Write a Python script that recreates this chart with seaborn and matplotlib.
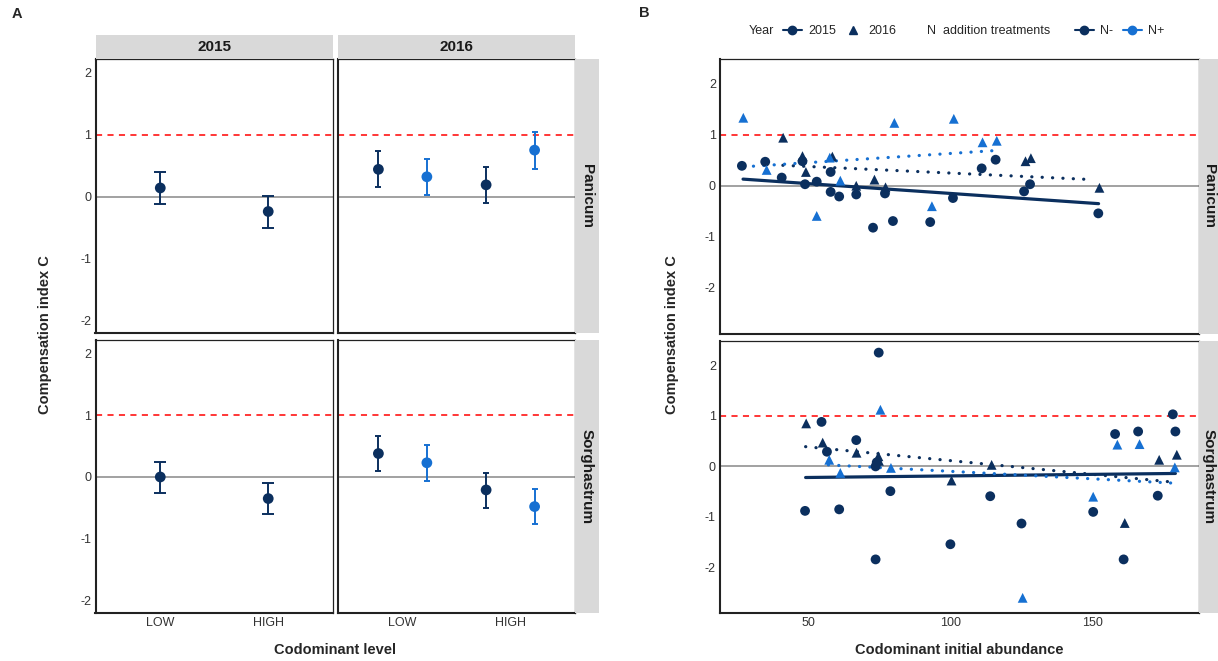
import numpy as np
import pandas as pd
import matplotlib
matplotlib.use("Agg")
import matplotlib.pyplot as plt
import seaborn as sns
from matplotlib.lines import Line2D

# ---- Panel A: mean compensation index with interval
a_species = ["Panicum"] * 6 + ["Sorghastrum"] * 6
a_year = ["2015", "2015", "2016", "2016", "2016", "2016"] * 2
a_level = ["LOW", "HIGH", "LOW", "LOW", "HIGH", "HIGH"] * 2
a_n = ["N-", "N-", "N-", "N+", "N-", "N+"] * 2
a_mean = [0.14, -0.24, 0.44, 0.32, 0.19, 0.75, 0.00, -0.35, 0.38, 0.23, -0.21, -0.48]
a_lo = [-0.12, -0.50, 0.15, 0.03, -0.10, 0.45, -0.26, -0.60, 0.09, -0.06, -0.50, -0.77]
a_hi = [0.39, 0.01, 0.74, 0.61, 0.47, 1.04, 0.24, -0.09, 0.66, 0.52, 0.07, -0.19]

# ---- Panel B: points (species / year / N treatment)
pan_2015_nm_x = [26.6, 34.8, 40.6, 47.9, 48.8, 52.9, 57.8, 57.8, 60.8, 66.8, 72.7, 76.9, 79.7, 92.8, 100.8, 110.9, 115.8, 125.8, 127.9, 151.9]
pan_2015_nm_y = [0.39, 0.47, 0.16, 0.48, 0.03, 0.08, 0.27, -0.12, -0.21, -0.17, -0.82, -0.15, -0.69, -0.71, -0.24, 0.34, 0.51, -0.11, 0.03, -0.54]
pan_2016_nm_x = [41.1, 47.9, 49.1, 58.4, 66.8, 73.2, 77.1, 126.3, 128.2, 152.3]
pan_2016_nm_y = [0.94, 0.58, 0.27, 0.57, 0.00, 0.12, -0.03, 0.48, 0.54, -0.04]
pan_2016_np_x = [27.1, 35.3, 52.9, 57.5, 61.2, 80.2, 93.4, 101.1, 111.2, 116.2]
pan_2016_np_y = [1.33, 0.31, -0.59, 0.55, 0.10, 1.23, -0.40, 1.31, 0.85, 0.88]

sor_2015_nm_x = [48.8, 54.6, 56.5, 60.8, 66.8, 73.6, 74.0, 73.6, 74.7, 78.8, 99.9, 113.9, 124.9, 150.1, 157.8, 160.8, 165.9, 172.8, 178.1, 179.0]
sor_2015_nm_y = [-0.88, 0.88, 0.29, -0.85, 0.52, 0.00, 0.08, -1.84, 2.25, -0.49, -1.54, -0.59, -1.13, -0.90, 0.64, -1.84, 0.69, -0.58, 1.03, 0.69]
sor_2016_nm_x = [49.2, 55.0, 66.9, 74.6, 74.8, 100.3, 114.4, 161.2, 173.3, 179.5]
sor_2016_nm_y = [0.85, 0.47, 0.27, 0.20, 0.11, -0.28, 0.03, -1.12, 0.13, 0.23]
sor_2016_np_x = [57.3, 61.2, 75.3, 79.0, 125.3, 150.1, 158.6, 166.4, 178.8]
sor_2016_np_y = [0.13, -0.13, 1.12, -0.03, -2.60, -0.60, 0.43, 0.44, -0.02]

# fitted lines (end points)
pan_fit_2015_nm_x, pan_fit_2015_nm_y = [27, 152], [0.13, -0.35]
pan_fit_2016_nm_x, pan_fit_2016_nm_y = [41, 150], [0.40, 0.12]
pan_fit_2016_np_x, pan_fit_2016_np_y = [27, 116], [0.37, 0.69]
sor_fit_2015_nm_x, sor_fit_2015_nm_y = [49, 179], [-0.22, -0.14]
sor_fit_2016_nm_x, sor_fit_2016_nm_y = [49, 178], [0.39, -0.31]
sor_fit_2016_np_x, sor_fit_2016_np_y = [57, 178], [0.03, -0.33]

DARK = "#0b2f5e"
BLUE = "#1670d2"
pal = {"N-": DARK, "N+": BLUE}

df_a = pd.DataFrame({"species": a_species, "year": a_year, "level": a_level,
                     "N": a_n, "mean": a_mean, "lo": a_lo, "hi": a_hi})


def make_pts(parts):
    frames = []
    for year, n, xs, ys in parts:
        frames.append(pd.DataFrame({"x": xs, "y": ys, "Year": year, "N": n}))
    return pd.concat(frames, ignore_index=True)


pts = {
    "Panicum": make_pts([("2015", "N-", pan_2015_nm_x, pan_2015_nm_y),
                         ("2016", "N-", pan_2016_nm_x, pan_2016_nm_y),
                         ("2016", "N+", pan_2016_np_x, pan_2016_np_y)]),
    "Sorghastrum": make_pts([("2015", "N-", sor_2015_nm_x, sor_2015_nm_y),
                             ("2016", "N-", sor_2016_nm_x, sor_2016_nm_y),
                             ("2016", "N+", sor_2016_np_x, sor_2016_np_y)]),
}
fits = {
    "Panicum": make_pts([("2015", "N-", pan_fit_2015_nm_x, pan_fit_2015_nm_y),
                         ("2016", "N-", pan_fit_2016_nm_x, pan_fit_2016_nm_y),
                         ("2016", "N+", pan_fit_2016_np_x, pan_fit_2016_np_y)]),
    "Sorghastrum": make_pts([("2015", "N-", sor_fit_2015_nm_x, sor_fit_2015_nm_y),
                             ("2016", "N-", sor_fit_2016_nm_x, sor_fit_2016_nm_y),
                             ("2016", "N+", sor_fit_2016_np_x, sor_fit_2016_np_y)]),
}

sns.set_style("white")
plt.rcParams["font.family"] = ["Liberation Sans", "DejaVu Sans"]
plt.rcParams["axes.unicode_minus"] = False

W, H = 1218, 661
fig = plt.figure(figsize=(W / 100, H / 100), dpi=100)


def px_axes(x0, y0, x1, y1):
    return fig.add_axes([x0 / W, 1 - y1 / H, (x1 - x0) / W, (y1 - y0) / H])


def strip(x0, y0, x1, y1, text, rot=0):
    s = px_axes(x0, y0, x1, y1)
    s.set_facecolor("#d9d9d9")
    s.set_xticks([])
    s.set_yticks([])
    for sp in s.spines.values():
        sp.set_visible(False)
    s.text(0.5, 0.5, text, rotation=rot, ha="center", va="center",
           fontsize=11, fontweight="bold", color="#1a1a1a", transform=s.transAxes)


def style(ax, show_x, show_y):
    for side, sp in ax.spines.items():
        sp.set_color("#222222")
        sp.set_linewidth(1.5 if side in ("left", "bottom") else 0.9)
    ax.tick_params(direction="in", length=3, width=0.6, color="#666666",
                   labelsize=9, labelcolor="#333333", pad=3,
                   labelbottom=show_x, labelleft=show_y)
    ax.axhline(0, color="#9a9a9a", lw=1.3, zorder=0)
    ax.axhline(1, color="red", lw=1.1, ls=(0, (4, 3.5)), zorder=0)
    ax.set_xlabel("")
    ax.set_ylabel("")


# ---------------- Panel A ----------------
cols_a = [(95.5, 333), (338, 575)]
rows_a = [(59, 333), (340, 612.7)]
years = ["2015", "2016"]
species = ["Panicum", "Sorghastrum"]
level_pos = {"LOW": 0, "HIGH": 1}

for r, sp_name in enumerate(species):
    for c, yr in enumerate(years):
        ax = px_axes(cols_a[c][0], rows_a[r][0], cols_a[c][1], rows_a[r][1])
        sub = df_a[(df_a.species == sp_name) & (df_a.year == yr)].copy()
        if yr == "2015":
            off = {"N-": 0.0, "N+": 0.0}
            cap = 4
        else:
            off = {"N-": -0.225, "N+": 0.225}
            cap = 2.2
        sub["pos"] = sub.level.map(level_pos) + sub.N.map(off)
        for n, g in sub.groupby("N"):
            ax.errorbar(g.pos, g["mean"], yerr=[g["mean"] - g.lo, g.hi - g["mean"]],
                        fmt="none", ecolor=pal[n], elinewidth=1.4,
                        capsize=cap, capthick=1.4, zorder=2)
        sns.scatterplot(data=sub, x="pos", y="mean", hue="N", palette=pal,
                        s=60, linewidth=0, legend=False, ax=ax, zorder=3)
        ax.set_xlim(-0.6, 1.6)
        ax.set_ylim(-2.2, 2.22)
        ax.set_xticks([0, 1])
        ax.set_xticklabels(["LOW", "HIGH"])
        ax.set_yticks([-2, -1, 0, 1, 2])
        style(ax, show_x=(r == 1), show_y=(c == 0))
        if r == 0:
            strip(cols_a[c][0], 34.6, cols_a[c][1], 59, yr)
    strip(575, rows_a[r][0], 599, rows_a[r][1], sp_name, rot=270)

fig.text(45 / W, 1 - 335 / H, "Compensation index C", rotation=90, ha="center",
         va="center", fontsize=10.5, fontweight="bold")
fig.text(335 / W, 1 - 650 / H, "Codominant level", ha="center", va="center",
         fontsize=10.5, fontweight="bold")

# ---------------- Panel B ----------------
rows_b = [(59, 334), (341, 613)]
for r, sp_name in enumerate(species):
    ax = px_axes(720, rows_b[r][0], 1199, rows_b[r][1])
    sns.lineplot(data=fits[sp_name], x="x", y="y", hue="N", style="Year",
                 palette=pal, dashes={"2015": "", "2016": (0.05, 3.2)},
                 lw=2.3, dash_capstyle="round", legend=False, ax=ax, zorder=2)
    sns.scatterplot(data=pts[sp_name], x="x", y="y", hue="N", style="Year",
                    palette=pal, markers={"2015": "o", "2016": "^"},
                    s=50, linewidth=0, legend=False, ax=ax, zorder=3)
    ax.set_xlim(18.9, 187.3)
    ax.set_ylim(-2.9, 2.48)
    ax.set_xticks([50, 100, 150])
    ax.set_yticks([-2, -1, 0, 1, 2])
    style(ax, show_x=(r == 1), show_y=True)
    strip(1199, rows_b[r][0], 1218, rows_b[r][1], sp_name, rot=270)

fig.text(672 / W, 1 - 335 / H, "Compensation index C", rotation=90, ha="center",
         va="center", fontsize=10.5, fontweight="bold")
fig.text(959 / W, 1 - 650 / H, "Codominant initial abundance", ha="center",
         va="center", fontsize=10.5, fontweight="bold")

# legend row
ly = 1 - 31 / H
fig.text(749 / W, ly, "Year", ha="left", va="center", fontsize=9)
h_year = [Line2D([], [], color=DARK, marker="o", ms=6, lw=1.5),
          Line2D([], [], color=DARK, marker="^", ms=6, lw=0)]
fig.legend(h_year, ["2015", "2016"], ncol=2, loc="center left",
           bbox_to_anchor=(783 / W, ly), frameon=False, fontsize=9,
           handlelength=1.5, handletextpad=0.5, columnspacing=0.6,
           borderpad=0, borderaxespad=0)
fig.text(927 / W, ly, "N  addition treatments", ha="left", va="center", fontsize=9)
h_n = [Line2D([], [], color=DARK, marker="o", ms=6, lw=1.5),
       Line2D([], [], color=BLUE, marker="o", ms=6, lw=1.5)]
fig.legend(h_n, ["N-", "N+"], ncol=2, loc="center left",
           bbox_to_anchor=(1075 / W, ly), frameon=False, fontsize=9,
           handlelength=1.5, handletextpad=0.5, columnspacing=0.8,
           borderpad=0, borderaxespad=0)

fig.text(12 / W, 1 - 14 / H, "A", ha="left", va="center", fontsize=10.5, fontweight="bold")
fig.text(639 / W, 1 - 13 / H, "B", ha="left", va="center", fontsize=10.5, fontweight="bold")

fig.savefig("out.png", dpi=100)
